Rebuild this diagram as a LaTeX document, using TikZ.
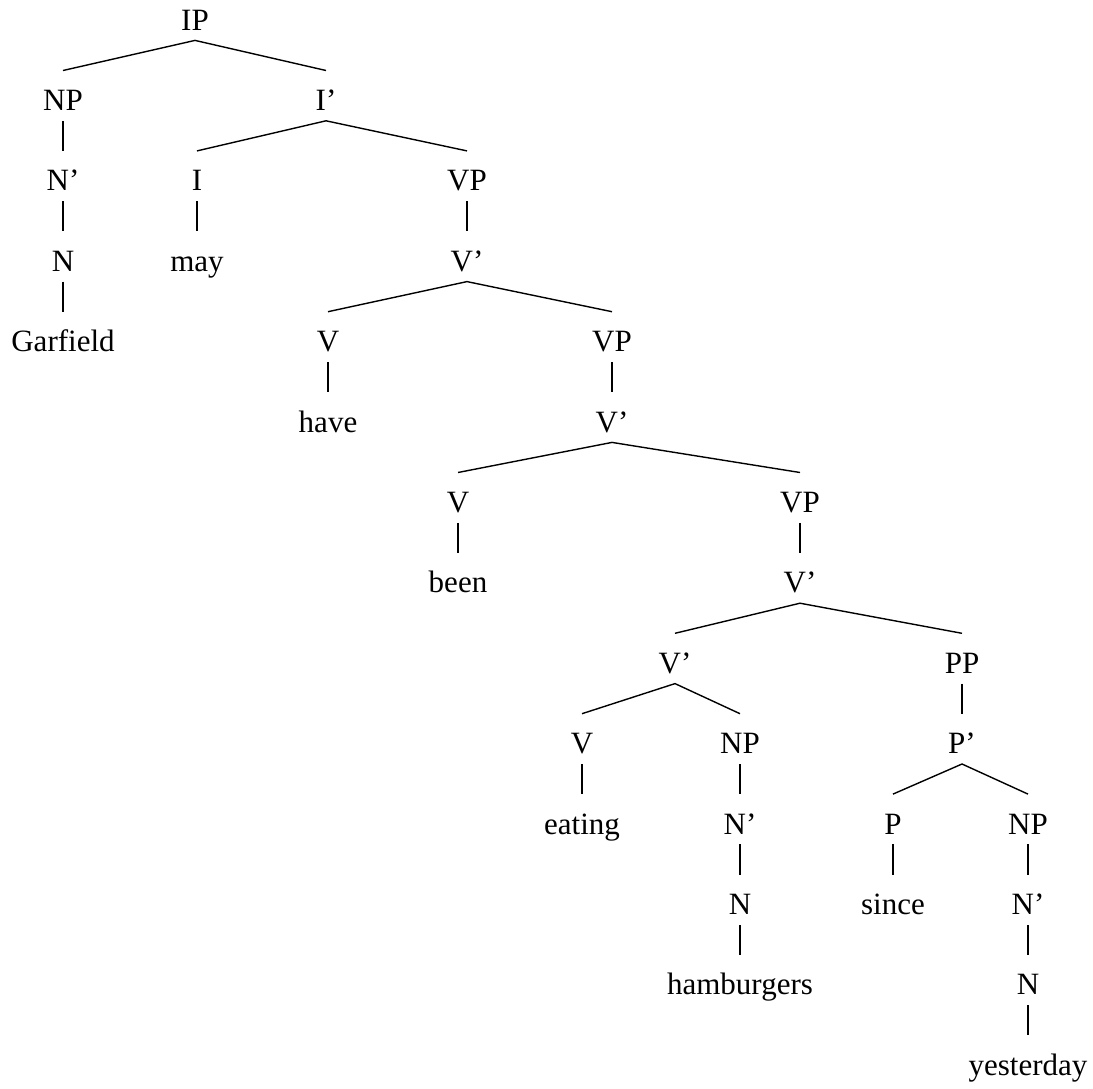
\documentclass[tikz,border=0pt]{standalone}
\usepackage{fontspec}
\setmainfont{Liberation Serif}
\tikzset{
  cat/.style={anchor=base, inner sep=0pt, text height=19.75pt, text depth=5pt,
    font=\fontsize{15.5}{18}\selectfont},
  branch/.style={line width=0.7pt}
}

\begin{document}
\begin{tikzpicture}[x=0.5pt, y=-0.5pt]
  %%%%% START %%%%%
  \useasboundingbox (0, 0) rectangle (1093, 1088);

  \node[cat] (ip) at (195, 30) {IP};

  \node[cat] (np) at (63, 110.4) {NP};
  \node[cat] (ibar) at (326, 110.4) {I’};

  \node[cat] (nbar) at (63, 190.8) {N’};
  \node[cat] (i) at (197, 190.8) {I};
  \node[cat] (vp) at (467, 190.8) {VP};

  \node[cat] (n) at (63, 271.2) {N};
  \node[cat] (may) at (197, 271.2) {may};
  \node[cat] (vbar) at (467, 271.2) {V’};

  \node[cat] (garfield) at (63, 351.6) {Garfield};
  \node[cat] (v) at (328, 351.6) {V};
  \node[cat] (vpb) at (612, 351.6) {VP};

  \node[cat] (have) at (328, 432) {have};
  \node[cat] (vbarb) at (612, 432) {V’};

  \node[cat] (vb) at (458, 512.4) {V};
  \node[cat] (vpc) at (800, 512.4) {VP};

  \node[cat] (been) at (458, 592.8) {been};
  \node[cat] (vbarc) at (800, 592.8) {V’};

  \node[cat] (vbard) at (675, 673.2) {V’};
  \node[cat] (pp) at (962, 673.2) {PP};

  \node[cat] (vc) at (582, 753.6) {V};
  \node[cat] (npb) at (740, 753.6) {NP};
  \node[cat] (pbar) at (962, 753.6) {P’};

  \node[cat] (eating) at (582, 834) {eating};
  \node[cat] (nbarb) at (740, 834) {N’};
  \node[cat] (p) at (893, 834) {P};
  \node[cat] (npc) at (1028, 834) {NP};

  \node[cat] (nb) at (740, 914.4) {N};
  \node[cat] (since) at (893, 914.4) {since};
  \node[cat] (nbarc) at (1028, 914.4) {N’};

  \node[cat] (hamburgers) at (740, 994.8) {hamburgers};
  \node[cat] (nc) at (1028, 994.8) {N};

  \node[cat] (yesterday) at (1028, 1075.2) {yesterday};

  % branches
  \draw[branch] (np.north) -- (ip.south) -- (ibar.north);
  \draw[branch] (np.south) -- (nbar.north);
  \draw[branch] (nbar.south) -- (n.north);
  \draw[branch] (n.south) -- (garfield.north);
  \draw[branch] (i.north) -- (ibar.south) -- (vp.north);
  \draw[branch] (i.south) -- (may.north);
  \draw[branch] (vp.south) -- (vbar.north);
  \draw[branch] (v.north) -- (vbar.south) -- (vpb.north);
  \draw[branch] (v.south) -- (have.north);
  \draw[branch] (vpb.south) -- (vbarb.north);
  \draw[branch] (vb.north) -- (vbarb.south) -- (vpc.north);
  \draw[branch] (vb.south) -- (been.north);
  \draw[branch] (vpc.south) -- (vbarc.north);
  \draw[branch] (vbard.north) -- (vbarc.south) -- (pp.north);
  \draw[branch] (vc.north) -- (vbard.south) -- (npb.north);
  \draw[branch] (vc.south) -- (eating.north);
  \draw[branch] (npb.south) -- (nbarb.north);
  \draw[branch] (nbarb.south) -- (nb.north);
  \draw[branch] (nb.south) -- (hamburgers.north);
  \draw[branch] (pp.south) -- (pbar.north);
  \draw[branch] (p.north) -- (pbar.south) -- (npc.north);
  \draw[branch] (p.south) -- (since.north);
  \draw[branch] (npc.south) -- (nbarc.north);
  \draw[branch] (nbarc.south) -- (nc.north);
  \draw[branch] (nc.south) -- (yesterday.north);

  %%%%% END %%%%%
\end{tikzpicture}
\end{document}
